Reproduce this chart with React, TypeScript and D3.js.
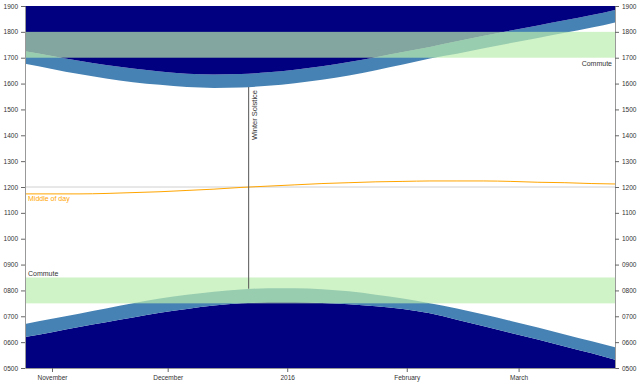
import { useEffect, useRef } from 'react';
import * as d3 from 'd3';

const WIDTH = 640;
const HEIGHT = 385;
const margin = { top: 6, right: 25, bottom: 17, left: 25 };

// weekly readings, times are local (GMT) clock times
const dayLabels = [
    '2015-10-25', '2015-11-01', '2015-11-08', '2015-11-15', '2015-11-22', '2015-11-29',
    '2015-12-06', '2015-12-13', '2015-12-20', '2015-12-27', '2016-01-03', '2016-01-10',
    '2016-01-17', '2016-01-24', '2016-01-31', '2016-02-07', '2016-02-14', '2016-02-21',
    '2016-02-28', '2016-03-06', '2016-03-13', '2016-03-20', '2016-03-26',
];
const civilDawn = [
    '06:12', '06:23', '06:35', '06:46', '06:57', '07:08', '07:17', '07:25', '07:30', '07:33', '07:33', '07:31',
    '07:28', '07:23', '07:17', '07:07', '06:52', '06:37', '06:21', '06:06', '05:50', '05:34', '05:19',
];
const sunrise = [
    '06:42', '06:54', '07:06', '07:18', '07:30', '07:41', '07:50', '07:57', '08:02', '08:05', '08:05', '08:03',
    '07:58', '07:50', '07:41', '07:30', '07:18', '07:04', '06:49', '06:34', '06:18', '06:02', '05:48',
];
const solarNoon = [
    '11:44', '11:44', '11:44', '11:45', '11:47', '11:49', '11:52', '11:55', '11:59', '12:02', '12:05', '12:08',
    '12:10', '12:12', '12:13', '12:14', '12:14', '12:14', '12:13', '12:11', '12:10', '12:08', '12:07',
];
const sunset = [
    '16:46', '16:34', '16:22', '16:12', '16:03', '15:57', '15:52', '15:50', '15:51', '15:55', '16:01', '16:09',
    '16:19', '16:31', '16:44', '16:58', '17:09', '17:22', '17:34', '17:46', '17:58', '18:10', '18:22',
];
const civilDusk = [
    '17:15', '17:04', '16:53', '16:43', '16:35', '16:28', '16:23', '16:21', '16:22', '16:26', '16:32', '16:40',
    '16:50', '17:01', '17:13', '17:25', '17:38', '17:51', '18:03', '18:15', '18:27', '18:39', '18:51',
];

const commuteStart = ['07:30', '17:00'];
const commuteEnd = ['08:30', '18:00'];

const solsticeDay = '2015-12-22';
const solsticeSunset = '15:52';
const solsticeSunrise = '08:04';

const xDomain = ['2015-10-25', '2016-03-26'];
const hourDomain = [5, 19];

type Row = { date: Date; dawn: number; rise: number; noon: number; set: number; dusk: number };

const parseDay = d3.timeParse('%Y-%m-%d');
const toHours = (value: string): number => {
    const [h, m] = value.split(':').map(Number);
    return h + m / 60;
};

const FONT = 'Helvetica, Arial, sans-serif';

export default function App() {
    const svgRef = useRef<SVGSVGElement | null>(null);

    useEffect(() => {
        document.body.style.margin = '0';
        if (!svgRef.current) {
            return;
        }
        const svg = d3.select(svgRef.current);
        svg.selectAll('*').remove();

        const rows: Row[] = dayLabels.map((day, i) => ({
            date: parseDay(day) as Date,
            dawn: toHours(civilDawn[i]),
            rise: toHours(sunrise[i]),
            noon: toHours(solarNoon[i]),
            set: toHours(sunset[i]),
            dusk: toHours(civilDusk[i]),
        }));

        const x = d3
            .scaleTime()
            .domain(xDomain.map((d) => parseDay(d) as Date))
            .range([margin.left, WIDTH - margin.right]);
        const y = d3
            .scaleLinear()
            .domain(hourDomain)
            .range([HEIGHT - margin.bottom, margin.top]);

        const [minHour, maxHour] = hourDomain;
        const curve = d3.curveMonotoneX;

        const bands: { y0: (d: Row) => number; y1: (d: Row) => number; fill: string }[] = [
            { y0: () => y(minHour), y1: (d) => y(d.dawn), fill: '#000080' },
            { y0: (d) => y(d.dawn), y1: (d) => y(d.rise), fill: '#4682b4' },
            { y0: (d) => y(d.set), y1: (d) => y(d.dusk), fill: '#4682b4' },
            { y0: (d) => y(d.dusk), y1: () => y(maxHour), fill: '#000080' },
        ];

        const areaGroup = svg.append('g');
        bands.forEach((band) => {
            const area = d3
                .area<Row>()
                .x((d) => x(d.date))
                .y0(band.y0)
                .y1(band.y1)
                .curve(curve);
            areaGroup.append('path').datum(rows).attr('d', area).attr('fill', band.fill);
        });

        // commute windows
        svg.append('g')
            .selectAll('rect')
            .data(commuteStart.map((s, i) => [toHours(s), toHours(commuteEnd[i])]))
            .join('rect')
            .attr('x', margin.left)
            .attr('width', WIDTH - margin.left - margin.right)
            .attr('y', (d) => y(d[1]))
            .attr('height', (d) => y(d[0]) - y(d[1]))
            .attr('fill', 'rgb(186, 236, 174)')
            .attr('fill-opacity', 0.7);

        // noon reference line
        svg.append('line')
            .attr('x1', margin.left)
            .attr('x2', WIDTH - margin.right)
            .attr('y1', y(12))
            .attr('y2', y(12))
            .attr('stroke', '#d0d0d0')
            .attr('stroke-width', 1);

        const noonLine = d3
            .line<Row>()
            .x((d) => x(d.date))
            .y((d) => y(d.noon))
            .curve(curve);
        svg.append('path')
            .datum(rows)
            .attr('d', noonLine)
            .attr('fill', 'none')
            .attr('stroke', '#ffa500')
            .attr('stroke-width', 1);

        svg.append('text')
            .text('Middle of day')
            .attr('x', margin.left + 3)
            .attr('y', y(rows[0].noon) + 7)
            .attr('fill', '#ffa500')
            .attr('font-size', 7)
            .attr('font-family', FONT);

        // winter solstice marker
        const solsticeX = x(parseDay(solsticeDay) as Date);
        svg.append('line')
            .attr('x1', solsticeX)
            .attr('x2', solsticeX)
            .attr('y1', y(toHours(solsticeSunset)))
            .attr('y2', y(toHours(solsticeSunrise)))
            .attr('stroke', '#555')
            .attr('stroke-width', 1);
        svg.append('text')
            .text('Winter Solstice')
            .attr('transform', `translate(${solsticeX + 8.5}, ${y(toHours(solsticeSunset)) + 3}) rotate(-90)`)
            .attr('text-anchor', 'end')
            .attr('fill', '#333')
            .attr('font-size', 7.5)
            .attr('font-family', FONT);

        // commute labels
        svg.append('text')
            .text('Commute')
            .attr('x', margin.left + 3)
            .attr('y', y(toHours(commuteEnd[0])) - 1.5)
            .attr('fill', '#333')
            .attr('font-size', 7)
            .attr('font-family', FONT);
        svg.append('text')
            .text('Commute')
            .attr('x', WIDTH - margin.right - 3)
            .attr('y', y(toHours(commuteStart[1])) + 8.5)
            .attr('text-anchor', 'end')
            .attr('fill', '#333')
            .attr('font-size', 7)
            .attr('font-family', FONT);

        // axes
        const hourFormat = (h: d3.NumberValue) => `${d3.format('02d')(Number(h))}00`;
        const styleAxis = (g: d3.Selection<SVGGElement, unknown, null, undefined>) => {
            g.attr('font-size', 6.5).attr('font-family', FONT);
            g.selectAll('.domain').attr('stroke', '#999');
            g.selectAll('.tick line').attr('stroke', '#666');
            g.selectAll('.tick text').attr('fill', '#333');
        };

        svg.append('g')
            .attr('transform', `translate(${margin.left},0)`)
            .call(d3.axisLeft(y).ticks(14).tickFormat(hourFormat).tickSize(4).tickPadding(3).tickSizeOuter(0))
            .call(styleAxis);
        svg.append('g')
            .attr('transform', `translate(${WIDTH - margin.right},0)`)
            .call(d3.axisRight(y).ticks(14).tickFormat(hourFormat).tickSize(4).tickPadding(3).tickSizeOuter(0))
            .call(styleAxis);
        svg.append('g')
            .attr('transform', `translate(0,${HEIGHT - margin.bottom})`)
            .call(d3.axisBottom(x).ticks(d3.timeMonth.every(1)).tickSize(4).tickPadding(3).tickSizeOuter(0))
            .call(styleAxis);
    }, []);

    return (
        <svg
            ref={svgRef}
            width={WIDTH}
            height={HEIGHT}
            style={{ display: 'block', position: 'absolute', left: 0, top: 0, background: '#fff' }}
            role="img"
            aria-label="Daylight and commute times"
        />
    );
}
